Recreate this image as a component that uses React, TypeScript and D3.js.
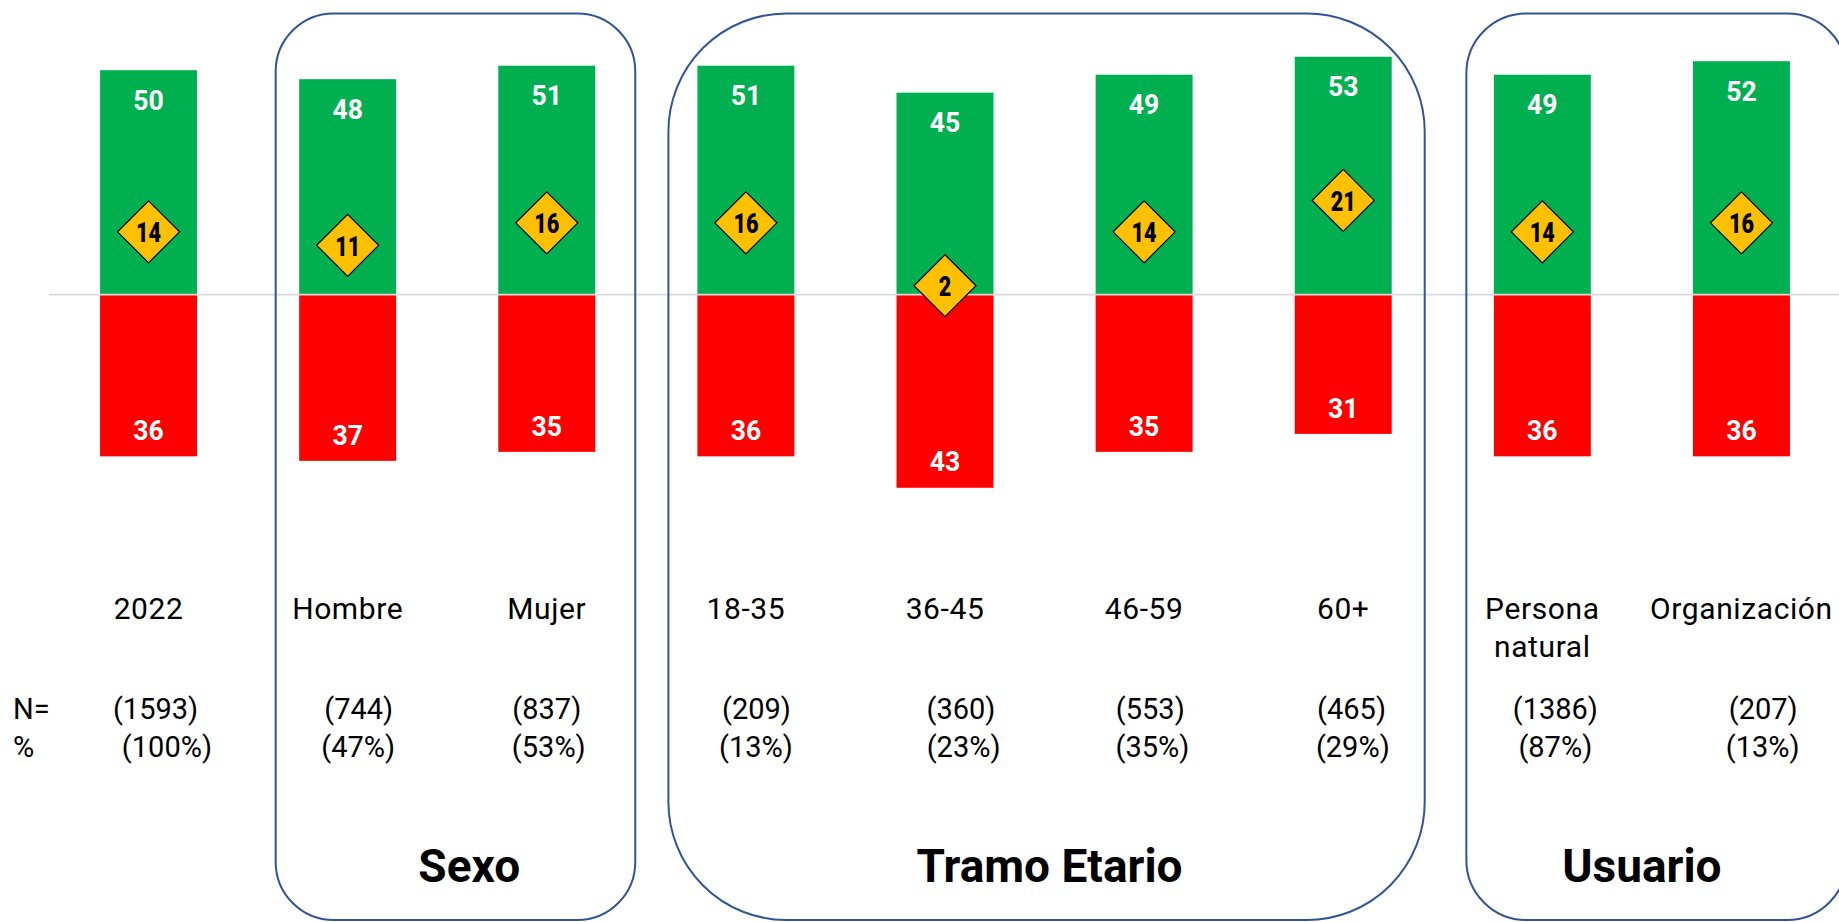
import React from "react";
import * as d3 from "d3";

// Survey balance by segment: favorable (up), unfavorable (down), net balance (diamond)
const categories = [
  "2022",
  "Hombre",
  "Mujer",
  "18-35",
  "36-45",
  "46-59",
  "60+",
  "Persona natural",
  "Organización",
];
const favorable = [50, 48, 51, 51, 45, 49, 53, 49, 52];
const unfavorable = [36, 37, 35, 36, 43, 35, 31, 36, 36];
const netBalance = [14, 11, 16, 16, 2, 14, 21, 14, 16];
const sampleSize = [1593, 744, 837, 209, 360, 553, 465, 1386, 207];
const sampleShare = [100, 47, 53, 13, 23, 35, 29, 87, 13];

const groupNames = ["Sexo", "Tramo Etario", "Usuario"];
const groupMembers = [
  ["Hombre", "Mujer"],
  ["18-35", "36-45", "46-59", "60+"],
  ["Persona natural", "Organización"],
];

// Layout
const W = 1839;
const H = 922;
const ZERO_Y = 294.7;
const PX_PER_UNIT = 4.49;
const GREEN = "#00B050";
const RED = "#FF0000";
const GOLD = "#FFC000";
const FRAME = "#2F5597";
const FONT = "Roboto, 'DejaVu Sans', sans-serif";

// Per-group frame padding around its bars and corner radius
const frameLayout = [
  { padL: 23.5, padR: 40, r: 58 },
  { padL: 29, padR: 33, r: 118 },
  { padL: 27.5, padR: 57, r: 60 },
];
const titleShift = [22, 5, 0];
// horizontal shifts of the sample-size lines relative to each bar centre
const nShift = [7, 11, 0, 10.6, 16, 6.2, 8.3, 13, 21.8];
const pctShift = [18.4, 10.5, 2, 10, 18.6, 8.3, 9.6, 13, 21.3];

export default function App() {
  const x = d3
    .scaleBand<string>()
    .domain(categories)
    .range([49, 1841])
    .paddingInner(0.513)
    .paddingOuter(0.2565);
  const y = d3
    .scaleLinear()
    .domain([0, 50])
    .range([ZERO_Y, ZERO_Y - 50 * PX_PER_UNIT]);
  const bw = x.bandwidth();
  const cx = (c: string) => (x(c) as number) + bw / 2;
  const diamond = 31;

  return (
    <svg
      width={W}
      height={H}
      viewBox={`0 0 ${W} ${H}`}
      style={{ position: "absolute", left: 0, top: 0, background: "#fff" }}
      fontFamily={FONT}
    >
      {/* bars */}
      {categories.map((c, i) => (
        <g key={`bar-${c}`}>
          <rect
            x={x(c)}
            y={y(favorable[i])}
            width={bw}
            height={y(0) - y(favorable[i])}
            fill={GREEN}
          />
          <rect
            x={x(c)}
            y={y(0)}
            width={bw}
            height={y(-unfavorable[i]) - y(0)}
            fill={RED}
          />
        </g>
      ))}

      {/* zero baseline */}
      <line x1={49} x2={W} y1={y(0)} y2={y(0)} stroke="#D9D9D9" strokeWidth={1.8} />

      {/* group frames */}
      {groupMembers.map((members, g) => {
        const first = members[0];
        const last = members[members.length - 1];
        const left = (x(first) as number) - frameLayout[g].padL;
        const right = (x(last) as number) + bw + frameLayout[g].padR;
        return (
          <rect
            key={`frame-${g}`}
            x={left}
            y={13.5}
            width={right - left}
            height={906.5}
            rx={frameLayout[g].r}
            ry={frameLayout[g].r}
            fill="none"
            stroke={FRAME}
            strokeWidth={2}
          />
        );
      })}

      {/* value labels */}
      {categories.map((c, i) => (
        <g key={`val-${c}`} fill="#fff" fontWeight={700} fontSize={28}>
          <text
            transform={`translate(${cx(c)},${y(favorable[i]) + 39.7}) scale(0.95,1)`}
            textAnchor="middle"
          >
            {favorable[i]}
          </text>
          <text
            transform={`translate(${cx(c)},${y(-unfavorable[i]) - 16.3}) scale(0.95,1)`}
            textAnchor="middle"
          >
            {unfavorable[i]}
          </text>
        </g>
      ))}

      {/* net balance diamonds */}
      {categories.map((c, i) => {
        const px = cx(c);
        const py = y(netBalance[i]);
        const d = `M${px},${py - diamond}L${px + diamond},${py}L${px},${py + diamond}L${px - diamond},${py}Z`;
        return (
          <g key={`net-${c}`}>
            <path d={d} fill={GOLD} stroke="#000" strokeWidth={1.2} />
            <text
              transform={`translate(${px},${py + 10.3}) scale(0.8,1)`}
              textAnchor="middle"
              fontWeight={900}
              fontSize={27}
              fill="#000"
            >
              {netBalance[i]}
            </text>
          </g>
        );
      })}

      {/* category labels */}
      {categories.map((c) => {
        const lines = c.split(" ");
        return (
          <text
            key={`cat-${c}`}
            x={cx(c)}
            y={619}
            textAnchor="middle"
            fontSize={30}
            fontWeight={400}
            letterSpacing={0.6}
            fill="#000"
          >
            {lines.map((ln, k) => (
              <tspan key={k} x={cx(c)} dy={k === 0 ? 0 : 38}>
                {ln}
              </tspan>
            ))}
          </text>
        );
      })}

      {/* sample size rows */}
      <g fontSize={29} fontWeight={400} fill="#000">
        <text x={13} y={719}>
          N=
        </text>
        <text x={13} y={756.5}>
          %
        </text>
        {categories.map((c, i) => (
          <g key={`n-${c}`} textAnchor="middle">
            <text x={cx(c) + nShift[i]} y={719}>
              ({sampleSize[i]})
            </text>
            <text x={cx(c) + pctShift[i]} y={756.5}>
              ({sampleShare[i]}%)
            </text>
          </g>
        ))}
      </g>

      {/* group titles */}
      {groupMembers.map((members, g) => {
        const mid = d3.mean(members, (m) => cx(m)) as number;
        return (
          <text
            key={`title-${g}`}
            x={mid + titleShift[g]}
            y={882}
            textAnchor="middle"
            fontSize={46}
            fontWeight={700}
            fill="#000"
          >
            {groupNames[g]}
          </text>
        );
      })}
    </svg>
  );
}
